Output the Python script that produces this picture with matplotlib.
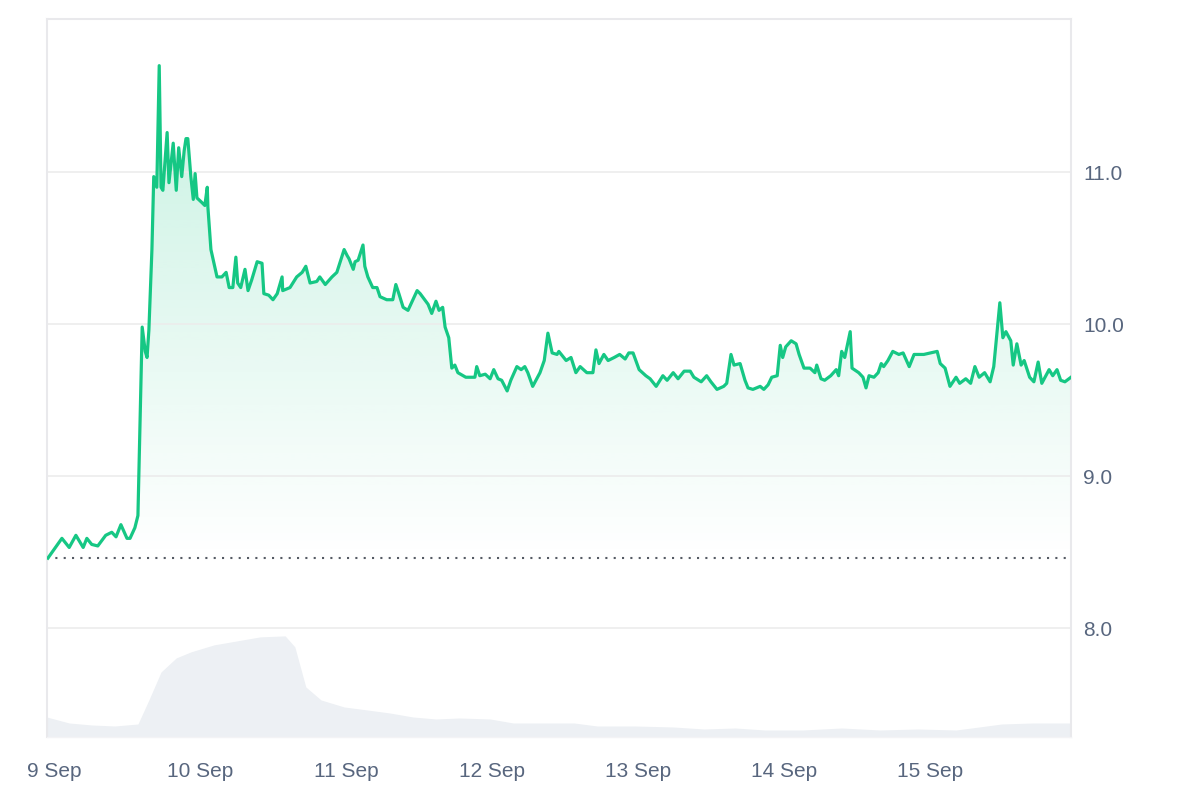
import matplotlib
matplotlib.use("Agg")
import matplotlib.pyplot as plt
import numpy as np

# hours since 9 Sep 00:00, and price
hours = [
    -1.0, 1.3, 2.5, 3.6, 4.8, 5.4, 6.2, 7.2, 8.5, 9.5, 10.2, 11.0, 12.0, 12.5, 13.3, 13.8,
    14.5, 15.0, 15.3, 15.6, 16.1, 16.4, 16.9, 17.3, 17.6, 17.9, 18.6, 18.9, 19.6, 20.1,
    20.5, 21.0, 21.4, 21.7, 22.0, 22.5, 22.9, 23.2, 23.5, 24.3, 24.8, 25.2, 25.3, 25.8,
    26.8, 27.6, 28.3, 28.8, 29.4, 29.9, 30.2, 30.7, 31.4, 31.9, 32.5, 33.4, 34.2, 34.5,
    35.3, 36.0, 36.7, 37.5, 37.6, 38.8, 39.9, 40.8, 41.4, 42.1, 43.2, 43.7, 44.6, 45.7,
    46.5, 47.3, 47.7, 48.2, 48.5, 49.2, 49.5, 50.0, 50.8, 51.1, 51.6, 52.4, 53.1, 53.6,
    54.7, 55.7, 56.2, 56.7, 57.4, 58.2, 59.7, 60.2, 61.5, 62.1, 62.8, 63.3, 63.9, 64.3,
    64.9, 65.4, 65.9, 66.4, 67.7, 69.2, 69.5, 70.0, 70.9, 71.7, 72.3, 73.0, 73.6, 74.5,
    75.1, 76.1, 76.8, 77.4, 77.9, 78.7, 79.9, 80.6, 81.2, 81.9, 82.7, 83.0, 84.2, 85.0,
    85.8, 86.5, 87.6, 88.6, 89.1, 89.6, 90.4, 91.1, 92.1, 93.0, 93.9, 94.5, 95.2, 96.2,
    97.3, 98.0, 99.0, 100.1, 100.8, 101.8, 102.6, 103.6, 104.6, 105.2, 106.4, 107.3,
    108.0, 109.0, 110.1, 110.6, 111.3, 111.8, 112.8, 113.6, 114.1, 114.9, 116.1, 116.7,
    117.4, 118.0, 118.9, 119.4, 119.8, 120.3, 121.2, 122.0, 122.5, 123.3, 124.3, 125.1,
    125.4, 126.1, 126.7, 127.7, 128.6, 129.0, 129.5, 130.0, 130.9, 131.2, 132.3, 133.0,
    133.5, 134.0, 134.8, 135.5, 136.0, 136.4, 137.1, 137.9, 138.9, 139.6, 140.6, 141.4,
    143.0, 145.2, 145.7, 146.5, 147.3, 148.3, 148.9, 149.9, 150.7, 151.4, 152.1, 153.0,
    153.9, 154.5, 155.5, 156.0, 156.5, 157.3, 157.7, 158.3, 159.0, 159.5, 160.4, 161.1,
    161.8, 162.4, 163.6, 164.2, 164.9, 165.5, 166.2, 167.2,
]
price = [
    8.46, 8.59, 8.53, 8.61, 8.53, 8.59, 8.55, 8.54, 8.61, 8.63, 8.60, 8.68, 8.59, 8.59, 8.66, 8.74,
    9.98, 9.82, 9.78, 9.96, 10.49, 10.97, 10.90, 11.70, 10.90, 10.88, 11.26, 10.93, 11.19, 10.88,
    11.16, 10.97, 11.14, 11.22, 11.22, 10.97, 10.82, 10.99, 10.83, 10.80, 10.78, 10.90, 10.77, 10.49,
    10.31, 10.31, 10.34, 10.24, 10.24, 10.44, 10.27, 10.24, 10.36, 10.22, 10.29, 10.41, 10.40, 10.20,
    10.19, 10.16, 10.20, 10.31, 10.22, 10.24, 10.31, 10.34, 10.38, 10.27, 10.28, 10.31, 10.26, 10.31,
    10.34, 10.44, 10.49, 10.45, 10.43, 10.36, 10.41, 10.42, 10.52, 10.38, 10.31, 10.24, 10.24, 10.18,
    10.16, 10.16, 10.26, 10.20, 10.11, 10.09, 10.22, 10.20, 10.13, 10.07, 10.15, 10.09, 10.11, 9.98,
    9.91, 9.71, 9.73, 9.68, 9.65, 9.65, 9.72, 9.66, 9.67, 9.64, 9.70, 9.64, 9.63, 9.56,
    9.63, 9.72, 9.70, 9.72, 9.68, 9.59, 9.68, 9.76, 9.94, 9.81, 9.80, 9.82, 9.76, 9.78,
    9.68, 9.72, 9.68, 9.68, 9.83, 9.74, 9.80, 9.76, 9.78, 9.80, 9.77, 9.81, 9.81, 9.70,
    9.66, 9.64, 9.59, 9.66, 9.63, 9.68, 9.64, 9.69, 9.69, 9.65, 9.62, 9.66,
    9.62, 9.57, 9.59, 9.61, 9.80, 9.73, 9.74, 9.63, 9.58, 9.57, 9.59, 9.57,
    9.60, 9.65, 9.66, 9.86, 9.78, 9.85, 9.89, 9.87, 9.80, 9.71, 9.71, 9.68,
    9.73, 9.64, 9.63, 9.66, 9.70, 9.66, 9.82, 9.78, 9.95, 9.71, 9.68, 9.65,
    9.58, 9.66, 9.65, 9.68, 9.74, 9.72, 9.76, 9.82, 9.80, 9.81, 9.72, 9.80,
    9.80, 9.82, 9.74, 9.71, 9.59, 9.65, 9.61, 9.64, 9.61, 9.72, 9.65, 9.68,
    9.62, 9.72, 10.14, 9.91, 9.95, 9.89, 9.73, 9.87, 9.73, 9.76, 9.65, 9.62,
    9.75, 9.61, 9.70, 9.66, 9.70, 9.63, 9.62, 9.65,
]

vol_hours = [
    -1.2, 2.5, 6.2, 10.0, 13.8, 15.6, 17.6, 20.1, 22.5, 26.3, 30.1, 33.9, 38.0, 39.6,
    41.4, 43.9, 47.7, 51.5, 55.2, 59.0, 62.8, 66.6, 71.7, 75.5, 79.2, 85.5, 89.3, 95.5,
    101.8, 106.9, 112.0, 116.9, 123.1, 129.5, 135.8, 142.0, 148.3, 152.1, 155.8, 160.9, 167.2,
]
volume = [
    20, 14, 12, 11, 13, 37, 65, 79, 85, 92, 96, 100, 101, 90,
    50, 37, 30, 27, 24, 20, 18, 19, 18, 14, 14, 14, 11, 11,
    10, 8, 9, 7, 7, 9, 7, 8, 7, 10, 13, 14, 14,
]

open_price = 8.46
day_ticks = [0, 24, 48, 72, 96, 120, 144]
day_labels = ["9 Sep", "10 Sep", "11 Sep", "12 Sep", "13 Sep", "14 Sep", "15 Sep"]
price_ticks = [8.0, 9.0, 10.0, 11.0]

GREEN = "#16c784"
LABEL = "#58667e"
FRAME = "#e9e9ec"

plt.rcParams["font.family"] = ["Liberation Sans", "DejaVu Sans"]

fig = plt.figure(figsize=(12, 8), dpi=100)
rect = [47 / 1200, 63 / 800, 1024 / 1200, 718 / 800]
xmin, xmax = -1.15, 167.2
ymin, ymax = 7.283, 12.007

# volume underneath
ax_vol = fig.add_axes(rect, zorder=0)
ax_vol.fill_between(vol_hours, volume, 0, color="#edf0f4", lw=0)
ax_vol.set_xlim(xmin, xmax)
ax_vol.set_ylim(0, max(volume) * 7.1)
ax_vol.axis("off")

ax = fig.add_axes(rect, zorder=1)
ax.patch.set_visible(False)

# gradient fill under the price line
rgb = matplotlib.colors.to_rgb(GREEN)
img = np.zeros((256, 1, 4))
img[..., :3] = rgb
img[..., 3] = np.linspace(0.0, 0.24, 256).reshape(-1, 1)
top = max(price)
im = ax.imshow(img, extent=[xmin, xmax, open_price, top], origin="lower",
               aspect="auto", zorder=1, interpolation="bilinear")
poly = ax.fill_between(hours, price, open_price, color="none", lw=0)
im.set_clip_path(poly.get_paths()[0], transform=ax.transData)

ax.plot(hours, price, color=GREEN, lw=2.3, solid_joinstyle="round", zorder=3)
ax.axhline(open_price, color="#555a63", lw=1.5, ls=(0, (1, 3)), zorder=2)

ax.set_xlim(xmin, xmax)
ax.set_ylim(ymin, ymax)

ax.set_yticks(price_ticks)
ax.set_yticklabels([f"{v:.1f}" for v in price_ticks])
ax.yaxis.tick_right()
ax.grid(axis="y", color="#ececec", lw=1.2, zorder=0)
ax.set_xticks(day_ticks)
ax.set_xticklabels(day_labels)
ax.tick_params(axis="both", length=0, labelsize=15, labelcolor=LABEL)
ax.tick_params(axis="y", pad=9)
ax.tick_params(axis="x", pad=18)

for side in ["left", "top", "right"]:
    ax.spines[side].set_color(FRAME)
    ax.spines[side].set_linewidth(1.5)
ax.spines["bottom"].set_color("#f3f3f5")
ax.spines["bottom"].set_linewidth(1)

fig.savefig("out.png", dpi=100, facecolor="white")
